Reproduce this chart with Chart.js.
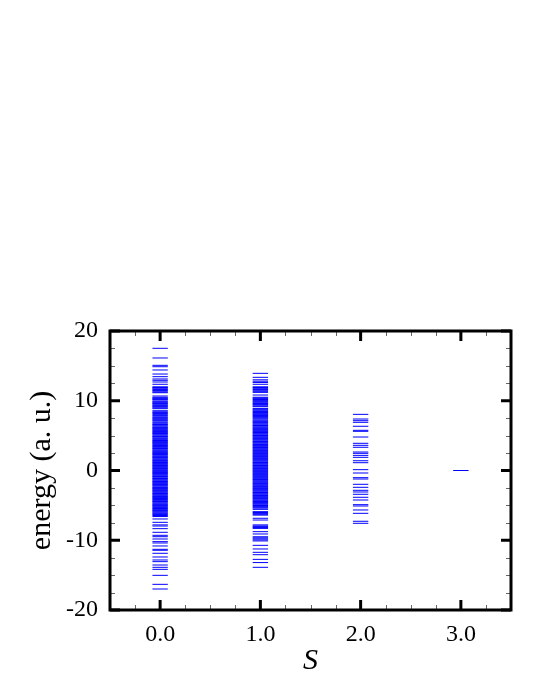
<!DOCTYPE html>
<html>
<head>
<meta charset="utf-8">
<script src="https://cdn.jsdelivr.net/npm/chart.js@4/dist/chart.umd.min.js"></script>
<style>
  html, body { margin: 0; padding: 0; background: #fff; }
  #wrap { width: 537px; height: 695px; }
</style>
</head>
<body>
<div id="wrap"><canvas id="levels"></canvas></div>
<script>
// spin values (x axis)
const spinValues = [0, 1, 2, 3];
const xTickValues = [0, 1, 2, 3];
const yTickValues = [-20, -10, 0, 10, 20];

// energy levels, one list per S
const energiesS0 = [
  17.52, 16.13, 15.08, 14.88, 14.41, 13.83, 13.45, 13.12, 12.93, 12.69, 12.36,
  12.0, 11.9, 11.82, 11.7, 11.6, 11.48, 11.38, 11.25, 11.15, 10.68, 10.5, 10.4,
  10.3, 10.2, 10.12, 9.95, 9.85, 9.72, 9.62, 9.55, 9.42, 9.3, 9.2, 9.1, 8.98,
  8.86, 8.57, 8.42, 8.3, 8.18, 8.05, 7.9, 7.78, 7.62, 7.5, 7.4, 7.28, 7.15,
  6.98, 6.85, 6.7, 6.6, 6.5, 6.38, 6.25, 6.15, 6.05, 5.95, 5.85, 5.72, 5.6,
  5.5, 5.42, 5.3, 5.2, 5.08, 4.95, 4.88, 4.78, 4.65, 4.55, 4.42, 4.3, 4.2,
  4.12, 4.0, 3.9, 3.8, 3.7, 3.58, 3.45, 3.35, 3.25, 3.15, 3.05, 2.92, 2.82,
  2.7, 2.6, 2.5, 2.42, 2.3, 2.2, 2.08, 1.98, 1.88, 1.8, 1.68, 1.55, 1.45, 1.35,
  1.25, 1.15, 1.02, 0.92, 0.82, 0.72, 0.6, 0.5, 0.4, 0.3, 0.2, 0.1, -0.02,
  -0.12, -0.22, -0.3, -0.42, -0.52, -0.62, -0.75, -0.85, -0.92, -1.05, -1.15,
  -1.25, -1.36, -1.48, -1.58, -1.7, -1.8, -1.9, -2.0, -2.12, -2.22, -2.35,
  -2.45, -2.55, -2.62, -2.75, -2.85, -2.95, -3.05, -3.18, -3.3, -3.4, -3.5,
  -3.62, -3.72, -3.82, -3.9, -4.02, -4.15, -4.25, -4.35, -4.45, -4.55, -4.68,
  -4.8, -4.9, -5.0, -5.1, -5.2, -5.32, -5.45, -5.55, -5.65, -5.75, -5.85,
  -5.98, -6.1, -6.2, -6.3, -6.45, -6.6, -6.95, -7.43, -7.8, -7.96, -8.34,
  -8.86, -9.29, -9.49, -9.82, -10.2, -10.39, -10.82, -11.3, -11.44, -11.87,
  -12.4, -12.83, -13.07, -13.55, -13.88, -14.17, -15.03, -16.32, -16.99
];
const energiesS1 = [
  13.93, 13.36, 13.0, 12.8, 12.62, 12.36, 12.0, 11.9, 11.78, 11.62, 11.5,
  11.35, 11.2, 10.82, 10.5, 10.4, 10.3, 10.18, 10.05, 9.92, 9.82, 9.7, 9.6,
  9.48, 9.38, 9.25, 9.15, 8.9, 8.78, 8.67, 8.55, 8.45, 8.32, 8.2, 8.1, 8.0,
  7.88, 7.75, 7.62, 7.5, 7.38, 7.24, 7.12, 7.0, 6.9, 6.8, 6.68, 6.55, 6.45,
  6.35, 6.22, 6.12, 6.0, 5.9, 5.8, 5.7, 5.58, 5.45, 5.35, 5.25, 5.12, 5.02,
  4.92, 4.82, 4.7, 4.6, 4.48, 4.38, 4.25, 4.15, 4.05, 3.95, 3.82, 3.72, 3.6,
  3.5, 3.4, 3.3, 3.2, 3.1, 2.98, 2.88, 2.75, 2.65, 2.55, 2.45, 2.32, 2.22,
  2.12, 2.02, 1.9, 1.8, 1.7, 1.6, 1.48, 1.38, 1.25, 1.15, 1.05, 0.95, 0.82,
  0.72, 0.62, 0.52, 0.4, 0.3, 0.2, 0.1, -0.02, -0.12, -0.22, -0.32, -0.45,
  -0.55, -0.65, -0.75, -0.88, -0.98, -1.1, -1.2, -1.3, -1.4, -1.52, -1.62,
  -1.75, -1.85, -1.95, -2.05, -2.18, -2.28, -2.4, -2.5, -2.6, -2.7, -2.82,
  -2.92, -3.05, -3.15, -3.25, -3.35, -3.48, -3.58, -3.7, -3.8, -3.9, -4.0,
  -4.12, -4.25, -4.35, -4.45, -4.58, -4.7, -4.8, -4.92, -5.02, -5.15, -5.28,
  -5.4, -5.57, -5.9, -6.02, -6.15, -6.28, -6.4, -6.85, -7.1, -7.8, -7.95,
  -8.05, -8.18, -8.3, -8.77, -9.1, -9.5, -9.65, -9.8, -9.95, -10.1, -10.73,
  -11.25, -11.73, -12.07, -12.74, -13.2, -13.88
];
const energiesS2 = [
  8.05, 7.38, 7.14, 6.91, 6.34, 5.76, 5.62, 4.8, 3.9, 3.61, 3.33, 2.65, 2.46,
  2.17, 1.89, 1.4, 1.12, 0.12, -0.36, -1.03, -1.22, -1.98, -2.41, -2.84, -3.08,
  -3.41, -3.84, -4.23, -4.9, -5.09, -5.66, -6.14, -7.28, -7.57
];
const energiesS3 = [0.0];

const levelSets = [energiesS0, energiesS1, energiesS2, energiesS3];

const datasets = levelSets.map((levels, i) => ({
    label: 'S = ' + spinValues[i],
    data: levels.map(e => ({ x: spinValues[i], y: e })),
    showLine: false,
    pointStyle: 'line',
    pointRadius: 7.7,
    pointHoverRadius: 7.7,
    pointBorderWidth: 1,
    borderColor: '#0000ff',
    backgroundColor: '#0000ff'
}));

// frame with inward major/minor ticks on all four sides
const framePlugin = {
    id: 'frame',
    afterDraw(chart) {
        const { ctx, chartArea: a, scales } = chart;
        const xs = scales.x, ys = scales.y;
        ctx.save();
        ctx.lineCap = 'butt';

        // minor ticks
        ctx.strokeStyle = '#666';
        ctx.lineWidth = 1;
        ctx.beginPath();
        for (let v = -0.25; v < 3.5; v += 0.25) {
            if (Number.isInteger(v)) continue;
            const px = Math.round(xs.getPixelForValue(v)) + 0.5;
            ctx.moveTo(px, a.bottom); ctx.lineTo(px, a.bottom - 5);
            ctx.moveTo(px, a.top); ctx.lineTo(px, a.top + 5);
        }
        for (let v = -17.5; v < 20; v += 2.5) {
            if (v % 10 === 0) continue;
            const py = Math.round(ys.getPixelForValue(v)) + 0.5;
            ctx.moveTo(a.left, py); ctx.lineTo(a.left + 5, py);
            ctx.moveTo(a.right, py); ctx.lineTo(a.right - 5, py);
        }
        ctx.stroke();

        // major ticks
        ctx.strokeStyle = '#000';
        ctx.lineWidth = 3;
        ctx.beginPath();
        xTickValues.forEach(v => {
            const px = xs.getPixelForValue(v);
            ctx.moveTo(px, a.bottom); ctx.lineTo(px, a.bottom - 10);
            ctx.moveTo(px, a.top); ctx.lineTo(px, a.top + 10);
        });
        yTickValues.forEach(v => {
            const py = ys.getPixelForValue(v);
            ctx.moveTo(a.left, py); ctx.lineTo(a.left + 10, py);
            ctx.moveTo(a.right, py); ctx.lineTo(a.right - 10, py);
        });
        ctx.stroke();

        // border
        ctx.lineWidth = 3;
        ctx.strokeRect(a.left, a.top, a.right - a.left, a.bottom - a.top);
        ctx.restore();
    }
};

const serif = '"Liberation Serif", serif';

function drawChart() {
    new Chart(document.getElementById('levels'), {
        type: 'scatter',
        data: { datasets },
        options: {
            responsive: true,
            maintainAspectRatio: false,
            animation: false,
            events: [],
            layout: { padding: { left: 0, right: 26, top: 331, bottom: 0 } },
            plugins: {
                legend: { display: false },
                tooltip: { enabled: false }
            },
            scales: {
                x: {
                    type: 'linear',
                    min: -0.5,
                    max: 3.5,
                    afterFit: s => { s.height = 85; },
                    afterBuildTicks: s => { s.ticks = xTickValues.map(v => ({ value: v })); },
                    grid: { display: false, drawTicks: false },
                    border: { display: false },
                    ticks: {
                        padding: 10,
                        color: '#000',
                        font: { family: serif, size: 24 },
                        callback: v => Number(v).toFixed(1)
                    },
                    title: {
                        display: true,
                        text: 'S',
                        color: '#000',
                        font: { family: serif, size: 30, style: 'italic' },
                        padding: { top: 0, bottom: 16 }
                    }
                },
                y: {
                    type: 'linear',
                    min: -20,
                    max: 20,
                    afterFit: s => { s.width = 110; },
                    afterBuildTicks: s => { s.ticks = yTickValues.map(v => ({ value: v })); },
                    grid: { display: false, drawTicks: false },
                    border: { display: false },
                    ticks: {
                        padding: 12,
                        color: '#000',
                        font: { family: serif, size: 24 },
                        callback: v => String(v)
                    },
                    title: {
                        display: true,
                        text: 'energy (a. u.)',
                        color: '#000',
                        font: { family: serif, size: 30 },
                        padding: { top: 24, bottom: 0 }
                    }
                }
            }
        },
        plugins: [framePlugin]
    });
}

Promise.all([
    document.fonts.load('24px "Liberation Serif"'),
    document.fonts.load('italic 30px "Liberation Serif"')
]).catch(() => {}).then(drawChart);
</script>
</body>
</html>
